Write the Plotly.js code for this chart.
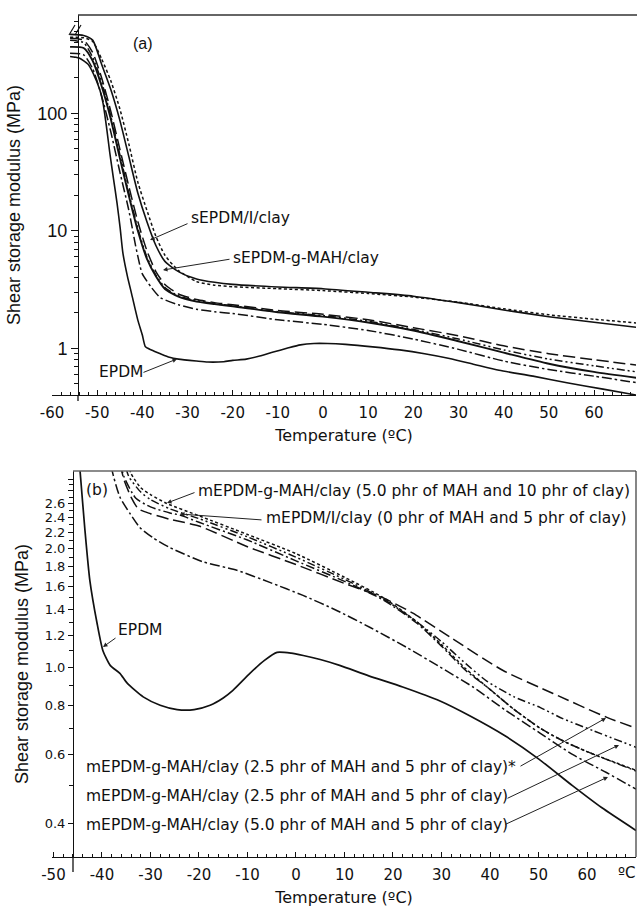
<!DOCTYPE html>
<html><head><meta charset="utf-8">
<script src="https://cdn.plot.ly/plotly-3.0.1.min.js"></script>
<style>html,body{margin:0;padding:0;background:#fff;} #chart{width:637px;height:908px;}</style>
</head><body><div id="chart"></div>
<script>
// ---------- Panel (a) data: temperature (ºC) and shear storage modulus (MPa) ----------
const tA_EPDM = [-56,-54,-52,-50.9,-49.4,-48.7,-47.9,-47.2,-46.4,-45.6,-44.9,-44.3,-43.3,-42.4,-41,-40,-39.3,-38,-36,-34,-32,-28,-25.5,-22,-20,-17,-14,-11,-8,-5,-2,1,5,11,17,22.5,28,33.5,39,46.5,54,62,69.5];
const gA_EPDM = [305,296,262,220,158,122,75,46,28,17.2,10.5,6.46,4.1,2.94,1.74,1.3,1.03,0.97,0.9,0.84,0.81,0.78,0.765,0.77,0.79,0.81,0.86,0.93,1.0,1.07,1.1,1.1,1.08,1.03,0.97,0.9,0.82,0.73,0.65,0.58,0.51,0.45,0.40];
const tA_U1 = [-56,-53,-51,-49,-47,-45,-43,-41,-39,-37,-35,-32,-28,-24,-20,-10,0,10,20,30,40,50,60,69.5];
const gA_U1 = [470,460,420,260,160,88,43,21,12,7.5,5.5,4.5,3.9,3.65,3.5,3.33,3.22,3.0,2.78,2.45,2.12,1.86,1.67,1.51];
const tA_U2 = [-56,-53,-51,-49,-47,-45,-43,-41,-39,-37,-35,-32,-28,-24,-20,-10,0,10,20,30,40,50,60,69.5];
const gA_U2 = [445,440,410,290,190,110,55,26,15,9,6.2,4.6,3.7,3.45,3.35,3.22,3.1,2.93,2.73,2.47,2.17,1.93,1.77,1.64];
const tA_M1 = [-56,-53,-51,-49,-47,-45,-43,-41,-39,-37,-35,-32,-28,-24,-20,-10,0,10,20,30,40,50,60,69.5];
const gA_M1 = [436,420,330,200,105,50,24,12,6.8,4.5,3.5,2.9,2.6,2.45,2.35,2.1,1.95,1.75,1.5,1.28,1.05,0.9,0.8,0.72];
const gA_M2 = [418,400,300,185,95,45,21,10.5,6.0,4.2,3.3,2.8,2.55,2.4,2.3,2.05,1.9,1.7,1.45,1.2,0.97,0.81,0.71,0.63];
const gA_M3 = [368,360,280,170,90,42,20,10,5.8,4.1,3.2,2.75,2.5,2.38,2.28,2.03,1.86,1.66,1.42,1.15,0.92,0.74,0.63,0.56];
const tA_M4 = [-56,-53,-51,-49,-47,-45,-43,-41.5,-40.5,-40,-38,-36,-32,-28,-24,-20,-10,0,10,20,30,40,50,60,69.5];
const gA_M4 = [325,315,240,140,70,32,15,7.5,5.0,4.3,3.3,2.7,2.35,2.15,2.05,1.98,1.75,1.6,1.42,1.2,0.98,0.78,0.66,0.58,0.51];

// ---------- Panel (b) data ----------
const tB_EPDM = [-44.8,-44.5,-43.5,-42.5,-41,-39.8,-38.3,-36.3,-34.8,-31.5,-28,-24.5,-21,-17.7,-15,-13,-9.5,-6.5,-3.9,-1,1.5,5,9,15,22,29.7,36,43,50,57,63,70.1];
const gB_EPDM = [3.5,3.13,2.22,1.66,1.29,1.10,1.01,0.964,0.91,0.84,0.80,0.78,0.78,0.80,0.835,0.873,0.964,1.04,1.09,1.085,1.07,1.045,1.01,0.95,0.89,0.82,0.75,0.67,0.585,0.50,0.44,0.385];
const tB_50_5 = [-38.5,-37.9,-36.3,-34.2,-32.2,-29.5,-26,-19.2,-12.2,-5.4,1.45,8.5,15.3,22.9,29.7,36.5,43,50.3,57,64,70.1];
const gB_50_5 = [3.6,3.15,2.70,2.45,2.26,2.13,2.01,1.85,1.76,1.64,1.52,1.39,1.26,1.12,1.0,0.89,0.78,0.68,0.60,0.54,0.49];
const tB_25_5s = [-37,-35.5,-34,-32.5,-30,-26,-20,-10,0,10,17.9,24.1,31.8,42.7,53,64.1,70.1];
const gB_25_5s = [3.6,3.0,2.7,2.52,2.45,2.37,2.28,2.02,1.82,1.63,1.50,1.37,1.19,0.98,0.857,0.745,0.70];
const tB_25_5 = [-36,-34.5,-32,-30,-26,-20,-10,0,10,18,25,30,35,39.4,45,50.3,55,61.2,70.1];
const gB_25_5 = [3.6,3.05,2.78,2.66,2.52,2.38,2.14,1.9,1.67,1.49,1.30,1.16,1.02,0.92,0.84,0.79,0.74,0.69,0.626];
const tB_50_10 = [-35.5,-34,-32,-30,-26.6,-20,-10,0,10,18,25,30,35,39.4,45,50.3,55,60,70.1];
const gB_50_10 = [3.6,3.1,2.85,2.74,2.60,2.42,2.17,1.94,1.69,1.50,1.30,1.14,0.99,0.89,0.78,0.70,0.65,0.61,0.547];
const tB_I = [-37,-35.5,-33,-30,-26,-23.9,-20,-10,0,10,18,25,30,35,39.4,45,50.3,55,60,70.1];
const gB_I = [3.6,3.05,2.68,2.55,2.46,2.43,2.33,2.10,1.86,1.65,1.48,1.29,1.13,0.98,0.89,0.78,0.70,0.65,0.61,0.545];

// ---------- tick labels ----------
const xTicksA = [-60,-50,-40,-30,-20,-10,0,10,20,30,40,50,60];
const xLabelsA = ['-60','-50','-40','-30','-20','-10','0','10','20','30','40','50','60'];
const xTicksB = [-50,-40,-30,-20,-10,0,10,20,30,40,50,60,70];
const xLabelsB = ['-50','-40','-30','-20','-10','0','10','20','30','40','50','60',''];
const yTicksA = [1,10,100];
const yLabelsA = ['1','10','100'];
const yMinorA = [0.4,0.5,0.6,0.7,0.8,0.9,2,3,4,5,6,7,8,9,20,30,40,50,60,70,80,90,200,300,400,500,600];
const yTicksB = [0.4,0.6,0.8,1.0,1.2,1.4,1.6,1.8,2.0,2.2,2.4,2.6,2.8,3.0];
const yLabelsB = ['0.4','0.6','0.8','1.0','1.2','1.4','1.6','1.8','2.0','2.2','2.4','2.6','',''];
const yMinorB = [0.5,0.7,0.9,1.1,1.3,1.5,1.7,1.9,2.1,2.3,2.5,2.7,2.9];

// ---------- geometry helpers (pixel -> paper) ----------
const W=637,H=908,L=52,R=1,TOP=15,BOT=51;
const PW=W-L-R, PH=H-TOP-BOT;
const px = x => (x-L)/PW;
const py = y => (H-BOT-y)/PH;

const K = '#111';
function tr(x,y,dash,xa,ya,w){
  return {x:x,y:y,type:'scatter',mode:'lines',xaxis:xa,yaxis:ya,hoverinfo:'skip',
    line:{color:K,width:w||1.5,dash:dash,shape:'spline',smoothing:0.6}};
}
const SD='3px,2.5px', LD='12px,5px', DD='10px,3px,2.5px,3px', DDD='8px,3px,2px,3px,2px,3px';
const data = [
  tr(tA_EPDM,gA_EPDM,'solid','x','y',1.6),
  tr(tA_U1,gA_U1,'solid','x','y',1.6),
  tr(tA_U2,gA_U2,SD,'x','y'),
  tr(tA_M1,gA_M1,LD,'x','y'),
  tr(tA_M1,gA_M2,DDD,'x','y'),
  tr(tA_M1,gA_M3,'solid','x','y',1.9),
  tr(tA_M4,gA_M4,DD,'x','y'),
  tr(tB_EPDM,gB_EPDM,'solid','x2','y2',1.7),
  tr(tB_50_5,gB_50_5,DD,'x2','y2'),
  tr(tB_25_5s,gB_25_5s,LD,'x2','y2'),
  tr(tB_25_5,gB_25_5,DDD,'x2','y2'),
  tr(tB_50_10,gB_50_10,SD,'x2','y2'),
  tr(tB_I,gB_I,'9px,3px,2px,3px','x2','y2')
];

const DV = 'DejaVu Sans', LS = 'Liberation Sans, Arial, sans-serif';
const axisCommon = {showline:true,linecolor:K,linewidth:1.3,showgrid:false,zeroline:false,tickcolor:K,tickwidth:1};
const layout = {
  width:W,height:H,margin:{l:L,r:R,t:TOP,b:BOT},paper_bgcolor:'#fff',plot_bgcolor:'rgba(0,0,0,0)',
  showlegend:false,
  xaxis:Object.assign({},axisCommon,{domain:[0,1],anchor:'y',range:[-60,69.3],tickmode:'array',tickvals:xTicksA,ticktext:xLabelsA,
    ticks:'inside',ticklen:5,ticklabelstandoff:4,minor:{tick0:0,dtick:2,ticks:'inside',ticklen:3,tickcolor:K},
    tickfont:{family:DV,size:15,color:K},title:{text:'Temperature (ºC)',font:{family:DV,size:16,color:K},standoff:8}}),
  yaxis:Object.assign({},axisCommon,{domain:[py(395),1],anchor:'free',position:px(78),type:'log',range:[-0.397,2.837],
    tickmode:'array',tickvals:yTicksA,ticktext:yLabelsA,ticks:'outside',ticklen:7,
    minor:{tickmode:'array',tickvals:yMinorA,ticks:'outside',ticklen:4,tickcolor:K},
    tickfont:{family:LS,size:18,color:K},title:{text:'Shear storage modulus (MPa)',font:{family:LS,size:18,color:K},standoff:10}}),
  xaxis2:Object.assign({},axisCommon,{domain:[0,1],anchor:'y2',range:[-50.3,70.1],tickmode:'array',tickvals:xTicksB,ticktext:xLabelsB,
    ticks:'inside',ticklen:5,ticklabelstandoff:4,minor:{tick0:0,dtick:2,ticks:'inside',ticklen:3,tickcolor:K},
    tickfont:{family:DV,size:15,color:K},title:{text:'Temperature (ºC)',font:{family:DV,size:16,color:K},standoff:8}}),
  yaxis2:Object.assign({},axisCommon,{domain:[0,py(471)],anchor:'free',position:px(73),type:'log',range:[-0.482,0.4975],
    tickmode:'array',tickvals:yTicksB,ticktext:yLabelsB,ticks:'outside',ticklen:5,
    minor:{tickmode:'array',tickvals:yMinorB,ticks:'outside',ticklen:4,tickcolor:K},
    tickfont:{family:DV,size:13,color:K},title:{text:'Shear storage modulus (MPa)',font:{family:LS,size:18,color:K},standoff:10}}),
  shapes:[
    {type:'line',xref:'paper',yref:'paper',x0:px(78),y0:py(15),x1:px(640),y1:py(15),line:{color:'#333',width:1.6}},
    {type:'line',xref:'paper',yref:'paper',x0:px(73),y0:py(471),x1:px(636),y1:py(471),line:{color:'#666',width:1.3}},
    {type:'line',xref:'paper',yref:'paper',x0:px(636),y0:py(471),x1:px(636),y1:py(857),line:{color:'#444',width:1.3}},
    {type:'line',xref:'paper',yref:'paper',x0:px(78),y0:py(395),x1:px(78),y1:py(401),line:{color:K,width:1.3}},
    {type:'line',xref:'paper',yref:'paper',x0:px(73),y0:py(857),x1:px(73),y1:py(872),line:{color:K,width:1.3}},
    {type:'line',xref:'paper',yref:'paper',x0:px(69),y0:py(35),x1:px(75),y1:py(25),line:{color:K,width:1.2}},
    {type:'line',xref:'paper',yref:'paper',x0:px(75),y0:py(35),x1:px(81),y1:py(25),line:{color:K,width:1.2}}
  ],
  annotations:[]
};

function txt(s,x,y,size,fam,anchor){
  layout.annotations.push({xref:'paper',yref:'paper',x:px(x),y:py(y),text:s,showarrow:false,
    xanchor:anchor||'left',yanchor:'middle',font:{family:fam||DV,size:size||15.5,color:K},borderpad:0});
}
function arr(tx,ty,hx,hy){
  layout.annotations.push({xref:'paper',yref:'paper',x:px(hx),y:py(hy),ax:tx-hx,ay:ty-hy,axref:'pixel',ayref:'pixel',
    text:' ',showarrow:true,arrowhead:2,arrowsize:0.9,arrowwidth:1,arrowcolor:'#222',standoff:0,startstandoff:0,font:{size:1}});
}
// panel (a)
txt('(a)',143,43,16,LS,'center');
txt('sEPDM/I/clay',190,218.5);
arr(189,223,150,240);
txt('sEPDM-g-MAH/clay',232,258);
arr(231,259,163,270);
txt('EPDM',98,372);
arr(142,373,177,359);
// panel (b)
txt('(b)',97,490,15.5,DV,'center');
txt('mEPDM-g-MAH/clay (5.0 phr of MAH and 10 phr of clay)',197,491);
arr(196,492,167,503);
txt('mEPDM/I/clay (0 phr of MAH and 5 phr of clay)',265,518);
arr(263,520,180,514);
txt('EPDM',117,630);
arr(117,637,103,647);
txt('mEPDM-g-MAH/clay (2.5 phr of MAH and 5 phr of clay)*',85,767);
arr(519,767,606,718);
txt('mEPDM-g-MAH/clay (2.5 phr of MAH and 5 phr of clay)',85,796);
arr(506,799,619,745);
txt('mEPDM-g-MAH/clay (5.0 phr of MAH and 5 phr of clay)',85,825);
arr(504,825,608,777);
txt('ºC',627,873,15,DV,'center');

Plotly.newPlot('chart',data,layout,{displayModeBar:false,staticPlot:true});
</script>
</body></html>
